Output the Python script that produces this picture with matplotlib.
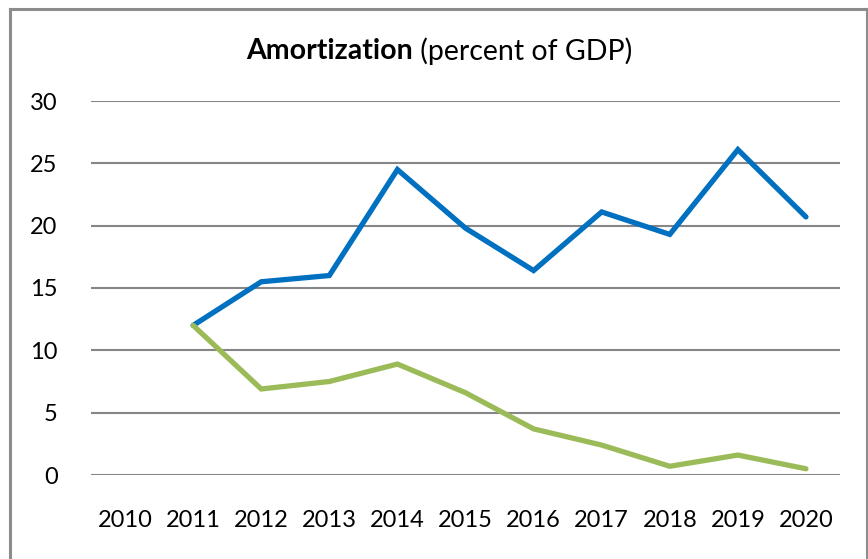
import matplotlib.pyplot as plt
from matplotlib.lines import Line2D

years = ['2010', '2011', '2012', '2013', '2014', '2015', '2016', '2017', '2018', '2019', '2020']
blue_vals = [None, 12.0, 15.5, 16.0, 24.5, 19.8, 16.4, 21.1, 19.3, 26.1, 20.7]
green_vals = [None, 12.0, 6.9, 7.5, 8.9, 6.6, 3.7, 2.4, 0.7, 1.6, 0.5]
yticks = [0, 5, 10, 15, 20, 25, 30]

plt.rcParams['font.family'] = ['Lato', 'DejaVu Sans']

fig = plt.figure(figsize=(8.68, 5.59), dpi=100)
ax = fig.add_axes([91/868, 1 - 475/559, 749/868, 374/559])

x = list(range(len(years)))
def pts(vals):
    xs = [i for i, v in zip(x, vals) if v is not None]
    ys = [v for v in vals if v is not None]
    return xs, ys

bx, by = pts(blue_vals)
gx, gy = pts(green_vals)
ax.plot(bx, by, color='#0070c0', lw=3.8, solid_joinstyle='miter', solid_capstyle='round', zorder=3)
ax.plot(gx, gy, color='#9bbb59', lw=3.8, solid_joinstyle='miter', solid_capstyle='round', zorder=3)

ax.set_xlim(-0.5, len(years) - 0.5)
ax.set_ylim(0, 30)
ax.set_yticks(yticks)
ax.set_xticks(x)
ax.set_xticklabels(years)
ax.yaxis.grid(True, color='#868686', lw=1.5)
ax.set_axisbelow(True)
for s in ax.spines.values():
    s.set_visible(False)
ax.tick_params(axis='both', length=0, labelsize=17, colors='black')
ax.tick_params(axis='y', pad=24)
ax.tick_params(axis='x', pad=25)

# title: bold part + normal part
fig.text(413/868, 1 - 51/559, 'Amortization', ha='right', va='center',
         fontsize=20.5, fontweight='bold')
fig.text(413/868, 1 - 51/559, ' (percent of GDP)', ha='left', va='center', fontsize=20.5)

# outer chart border (no bottom edge visible)
c = '#8c8c8c'
fig.add_artist(Line2D([10/868, 10/868], [0, 1 - 9/559], transform=fig.transFigure, color=c, lw=2.2))
fig.add_artist(Line2D([10/868, 867/868], [1 - 9/559, 1 - 9/559], transform=fig.transFigure, color=c, lw=2.2))
fig.add_artist(Line2D([867/868, 867/868], [0, 1 - 9/559], transform=fig.transFigure, color=c, lw=1.5))

fig.savefig('out.png', dpi=100)
